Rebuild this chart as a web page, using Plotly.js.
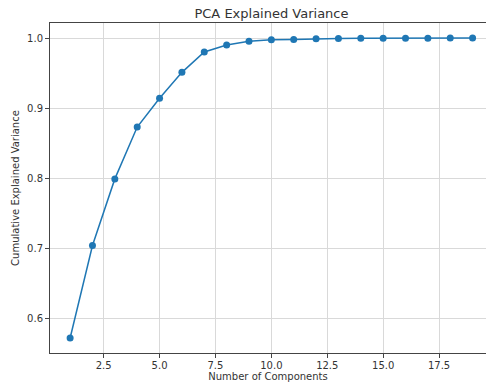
<!DOCTYPE html>
<html>
<head>
<meta charset="utf-8">
<script src="https://cdn.plot.ly/plotly-3.0.1.min.js"></script>
<style>
html, body { margin: 0; padding: 0; overflow: hidden; background: #fff; }
#chart { width: 486px; height: 388px; }
</style>
</head>
<body>
<div id="chart"></div>
<script>
const components = [1,2,3,4,5,6,7,8,9,10,11,12,13,14,15,16,17,18,19];
const cumulativeVariance = [0.572,0.704,0.799,0.873,0.914,0.951,0.980,0.990,0.9955,0.9975,0.998,0.999,0.9993,0.9995,0.9996,0.9997,0.9998,0.9999,1.0];
const xTickVals = [2.5,5.0,7.5,10.0,12.5,15.0,17.5];
const xTickText = ["2.5","5.0","7.5","10.0","12.5","15.0","17.5"];
const yTickVals = [0.6,0.7,0.8,0.9,1.0];
const yTickText = ["0.6","0.7","0.8","0.9","1.0"];

const fontFamily = "DejaVu Sans, sans-serif";
const textColor = "#333333";

const trace = {
  x: components,
  y: cumulativeVariance,
  type: "scatter",
  mode: "lines+markers",
  line: { color: "#1f77b4", width: 1.5 },
  marker: { color: "#1f77b4", size: 7 },
  hoverinfo: "skip"
};

const layout = {
  width: 486,
  height: 388,
  margin: { l: 50, r: 0, t: 23, b: 35, pad: 0 },
  paper_bgcolor: "#ffffff",
  plot_bgcolor: "#ffffff",
  showlegend: false,
  font: { family: fontFamily, size: 10, color: textColor },
  title: {
    text: "PCA Explained Variance",
    font: { family: fontFamily, size: 13, color: textColor },
    x: 0.508, xref: "paper", xanchor: "center",
    y: 0.966, yref: "container", yanchor: "middle"
  },
  xaxis: {
    range: [0.1, 19.6],
    tickvals: xTickVals,
    ticktext: xTickText,
    ticks: "outside",
    ticklen: 4,
    tickwidth: 1,
    tickcolor: "#444444",
    showline: true,
    linecolor: "#444444",
    linewidth: 1,
    mirror: true,
    showgrid: true,
    gridcolor: "#d9d9d9",
    gridwidth: 1,
    zeroline: false,
    ticklabelstandoff: -1,
    tickfont: { family: fontFamily, size: 10, color: textColor },
    title: { text: "Number of Components", font: { family: fontFamily, size: 10, color: textColor }, standoff: 2 }
  },
  yaxis: {
    range: [0.5506, 1.0214],
    tickvals: yTickVals,
    ticktext: yTickText,
    ticks: "outside",
    ticklen: 4,
    tickwidth: 1,
    tickcolor: "#444444",
    showline: true,
    linecolor: "#444444",
    linewidth: 1,
    mirror: false,
    showgrid: true,
    gridcolor: "#d9d9d9",
    gridwidth: 1,
    zeroline: false,
    tickfont: { family: fontFamily, size: 10, color: textColor },
    title: { text: "Cumulative Explained Variance", font: { family: fontFamily, size: 10, color: textColor }, standoff: 5 }
  }
};

Plotly.newPlot("chart", [trace], layout, { displayModeBar: false, staticPlot: true });
</script>
</body>
</html>
